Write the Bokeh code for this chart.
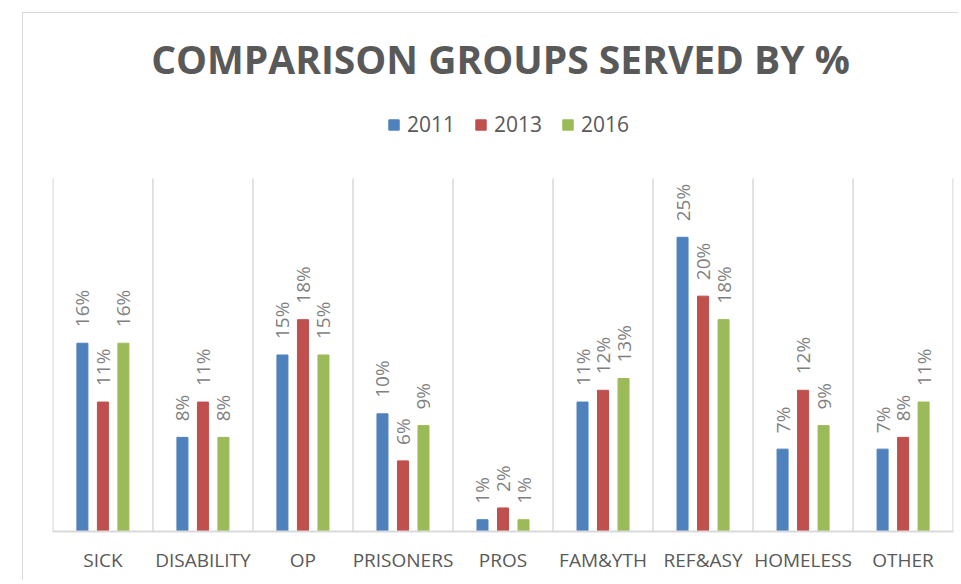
import math
from bokeh.plotting import figure
from bokeh.models import Range1d, FixedTicker, Label, Legend, LegendItem
from bokeh.embed import file_html
from bokeh.resources import INLINE
from bokeh.core.properties import value

categories = ["SICK", "DISABILITY", "OP", "PRISONERS", "PROS", "FAM&YTH", "REF&ASY", "HOMELESS", "OTHER"]
years = ["2011", "2013", "2016"]
v2011 = [16, 8, 15, 10, 1, 11, 25, 7, 7]
v2013 = [11, 11, 18, 6, 2, 12, 20, 12, 8]
v2016 = [16, 8, 15, 9, 1, 13, 18, 9, 11]
series = [v2011, v2013, v2016]
colors = ["#4f81bd", "#c0504d", "#9bbb59"]
offsets = [-0.205, 0.0, 0.205]
y_max = 30

FONT = "Open Sans"
n = len(categories)

p = figure(width=936, height=568,
           x_range=Range1d(-0.004, n + 0.004), y_range=Range1d(0, 44.02),
           output_backend="svg", toolbar_location=None,
           min_border_left=29, min_border_right=6,
           min_border_top=0, min_border_bottom=50)
p.margin = (12, 0, 0, 22)
p.styles = {"border-top": "1px solid #d9d9d9", "border-left": "1px solid #d9d9d9"}
p.outline_line_color = None
p.background_fill_color = "white"
p.border_fill_color = "white"

# category separators
p.segment(x0=list(range(n + 1)), x1=list(range(n + 1)), y0=[0] * (n + 1), y1=[y_max] * (n + 1),
          line_color="#d9d9d9", line_width=1.5)

renderers = []
for vals, col, off in zip(series, colors, offsets):
    xs = [i + 0.5 + off for i in range(n)]
    r = p.vbar(x=xs, top=vals, width=0.11, bottom=0, fill_color=col, line_color=col)
    renderers.append(r)
    p.text(x=xs, y=vals, text=[f"{v}%" for v in vals], angle=math.pi / 2,
           text_align="left", text_baseline="middle", y_offset=-16,
           text_font=value(FONT), text_font_size="19px", text_color="#7f7f7f")

p.yaxis.visible = False
p.ygrid.visible = False
p.xgrid.visible = False

ax = p.xaxis[0]
ax.ticker = FixedTicker(ticks=[i + 0.5 for i in range(n)])
ax.major_label_overrides = {i + 0.5: c for i, c in enumerate(categories)}
ax.major_tick_line_color = None
ax.minor_tick_line_color = None
ax.axis_line_color = "#d9d9d9"
ax.axis_line_width = 2
ax.major_label_standoff = 9
ax.major_label_text_font = FONT
ax.major_label_text_font_size = "19px"
ax.major_label_text_color = "#595959"

title = Label(x=n / 2 - 0.025, y=40.2, text="COMPARISON GROUPS SERVED BY %",
              text_align="center", text_baseline="alphabetic",
              text_font=FONT, text_font_size="39px", text_font_style="bold",
              text_color="#595959")
p.add_layout(title)

legend = Legend(items=[LegendItem(label=y, renderers=[r]) for y, r in zip(years, renderers)],
                location=(335, 393), orientation="horizontal",
                glyph_width=13, glyph_height=13, label_standoff=7, spacing=19,
                padding=0, margin=0, label_height=22,
                label_text_font=FONT, label_text_font_size="21px", label_text_color="#595959",
                border_line_color=None, background_fill_alpha=0)
p.add_layout(legend, "center")

open("out.html", "w").write(file_html(p, INLINE))
